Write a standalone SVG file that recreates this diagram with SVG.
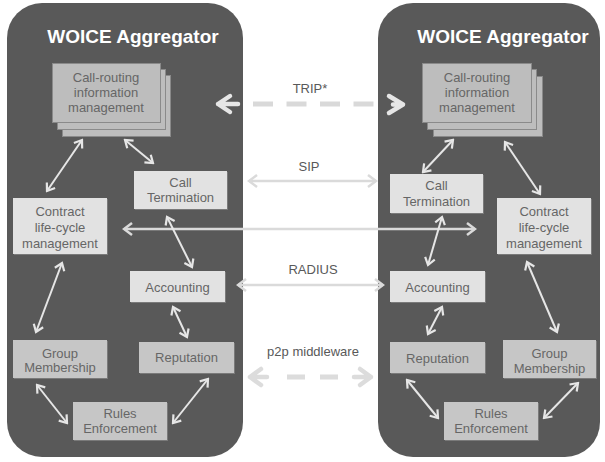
<svg xmlns="http://www.w3.org/2000/svg" width="605" height="462" viewBox="0 0 605 462">
<style>
.panel{fill:#595959}
.title{font-family:"Liberation Sans",Arial,sans-serif;font-size:19px;font-weight:bold;fill:#ffffff;text-anchor:middle}
.bt{font-family:"Liberation Sans",Arial,sans-serif;font-size:13px;fill:#666666;text-anchor:middle}
.lbl{font-family:"Liberation Sans",Arial,sans-serif;font-size:13px;fill:#595959;text-anchor:middle}
.light{fill:#e2e2e2}
.mid{fill:#c6c6c6}
.stk{fill:#bdbdbd;stroke:#8a8a8a;stroke-width:1}
.sh{fill:#7a7a7a}
.a{stroke:#e6e6e6;stroke-width:2;fill:none;marker-start:url(#ah);marker-end:url(#ah)}
.x{stroke:#dadada;stroke-width:2.5;fill:none;marker-start:url(#ahx);marker-end:url(#ahx)}
.thick{stroke-width:4.5;fill:none;stroke-linecap:round;stroke-linejoin:round}
</style>
<defs>
<marker id="ah" markerUnits="userSpaceOnUse" viewBox="-10 -8 12 16" refX="0" refY="0" markerWidth="12" markerHeight="16" orient="auto-start-reverse">
<path d="M-7,-5 L0,0 L-7,5" fill="none" stroke="#e6e6e6" stroke-width="2.2"/>
</marker>
<marker id="ahx" markerUnits="userSpaceOnUse" viewBox="-10 -8 12 16" refX="0" refY="0" markerWidth="12" markerHeight="16" orient="auto-start-reverse">
<path d="M-8,-6 L0,0 L-8,6" fill="none" stroke="#dadada" stroke-width="2.5"/>
</marker>
</defs>

<g id="panel-left"><rect class="panel" x="7" y="3" width="236" height="454" rx="35"/><text class="title" x="133" y="43">WOICE Aggregator</text></g>
<g id="panel-right"><rect class="panel" x="378" y="3" width="222" height="454" rx="35"/><text class="title" x="503" y="43">WOICE Aggregator</text></g>

<g id="connectors">
<line class="x" x1="124" y1="229" x2="475" y2="229"/>
<line class="x" x1="249" y1="181" x2="376" y2="181"/>
<line class="x" x1="238" y1="285" x2="383" y2="285"/>
<line x1="253" y1="104" x2="374" y2="104" stroke="#d9d9d9" stroke-width="5" stroke-dasharray="20 13.5"/>
<path class="thick" stroke="#e6e6e6" d="M230,96 L218,104 L230,112 M218,104 L238,104"/>
<path class="thick" stroke="#e6e6e6" d="M389,96 L403,104.5 L389,113 M393,104.5 L403,104.5"/>
<line x1="287" y1="377" x2="338" y2="377" stroke="#dcdcdc" stroke-width="5" stroke-dasharray="18 15"/>
<path class="thick" stroke="#dcdcdc" d="M261,369 L250,377 L261,385 M250,377 L267,377"/>
<path class="thick" stroke="#dcdcdc" d="M360,369 L371,377 L360,385 M354,377 L371,377"/>
<line class="a" x1="82" y1="140" x2="47" y2="191"/>
<line class="a" x1="125" y1="140" x2="153" y2="163"/>
<line class="a" x1="167" y1="217" x2="192" y2="267"/>
<line class="a" x1="173" y1="307" x2="187" y2="337"/>
<line class="a" x1="62" y1="263" x2="36" y2="332"/>
<line class="a" x1="37" y1="385" x2="67" y2="423"/>
<line class="a" x1="173" y1="423" x2="208" y2="379"/>
<line class="a" x1="453" y1="140" x2="423" y2="172"/>
<line class="a" x1="505" y1="142" x2="540" y2="194"/>
<line class="a" x1="442" y1="217" x2="428" y2="265"/>
<line class="a" x1="442" y1="307" x2="428" y2="334"/>
<line class="a" x1="527" y1="262" x2="557" y2="332"/>
<line class="a" x1="407" y1="380" x2="438" y2="418"/>
<line class="a" x1="544" y1="418" x2="578" y2="383"/>
<text class="lbl" x="310" y="93">TRIP*</text>
<text class="lbl" x="309" y="171">SIP</text>
<text class="lbl" x="313" y="274">RADIUS</text>
<text class="lbl" x="313" y="356">p2p middleware</text>
</g>

<g id="cr-left">
<rect class="stk" x="62.5" y="75.5" width="108" height="61"/>
<rect class="stk" x="57.5" y="69.5" width="108" height="60"/>
<rect class="stk" x="52.5" y="63.5" width="108" height="59"/>
<text class="bt" x="106" y="82">Call-routing</text>
<text class="bt" x="106" y="97">information</text>
<text class="bt" x="106" y="112">management</text>
</g>
<g id="ct-left"><rect class="sh" x="135" y="172" width="93" height="38"/><rect class="light" x="134" y="171" width="93" height="38"/><text class="bt" x="180.5" y="187">Call</text><text class="bt" x="180.5" y="202">Termination</text></g>
<g id="clm-left"><rect class="sh" x="14" y="199" width="94" height="56"/><rect class="light" x="13" y="198" width="94" height="56"/><text class="bt" x="60" y="216">Contract</text><text class="bt" x="60" y="232">life-cycle</text><text class="bt" x="60" y="248">management</text></g>
<g id="acc-left"><rect class="sh" x="131" y="272" width="95" height="31"/><rect class="light" x="130" y="271" width="95" height="31"/><text class="bt" x="177.5" y="291.5">Accounting</text></g>
<g id="rep-left"><rect class="sh" x="140" y="343" width="95" height="31"/><rect class="mid" x="139" y="342" width="95" height="31"/><text class="bt" x="186.5" y="362">Reputation</text></g>
<g id="gm-left"><rect class="sh" x="14" y="341" width="94" height="38"/><rect class="mid" x="13" y="340" width="94" height="38"/><text class="bt" x="60" y="357.5">Group</text><text class="bt" x="60" y="372">Membership</text></g>
<g id="re-left"><rect class="sh" x="74" y="403" width="94" height="38"/><rect class="mid" x="73" y="402" width="94" height="38"/><text class="bt" x="120" y="418">Rules</text><text class="bt" x="120" y="433">Enforcement</text></g>

<g id="cr-right">
<rect class="stk" x="433.5" y="76.5" width="109" height="60"/>
<rect class="stk" x="427.5" y="69.5" width="109" height="60"/>
<rect class="stk" x="422.5" y="63.5" width="109" height="59"/>
<text class="bt" x="477" y="82">Call-routing</text>
<text class="bt" x="477" y="97">information</text>
<text class="bt" x="477" y="112">management</text>
</g>
<g id="ct-right"><rect class="sh" x="391" y="175" width="93" height="39"/><rect class="light" x="390" y="174" width="93" height="39"/><text class="bt" x="436.5" y="189.5">Call</text><text class="bt" x="436.5" y="206">Termination</text></g>
<g id="clm-right"><rect class="sh" x="498" y="199" width="94" height="56"/><rect class="light" x="497" y="198" width="94" height="56"/><text class="bt" x="544" y="216">Contract</text><text class="bt" x="544" y="232">life-cycle</text><text class="bt" x="544" y="248">management</text></g>
<g id="acc-right"><rect class="sh" x="391" y="272" width="95" height="31"/><rect class="light" x="390" y="271" width="95" height="31"/><text class="bt" x="437.5" y="291.5">Accounting</text></g>
<g id="rep-right"><rect class="sh" x="391" y="343" width="95" height="31"/><rect class="mid" x="390" y="342" width="95" height="31"/><text class="bt" x="437.5" y="362.5">Reputation</text></g>
<g id="gm-right"><rect class="sh" x="504" y="341" width="93" height="38"/><rect class="mid" x="503" y="340" width="93" height="38"/><text class="bt" x="549.5" y="357.5">Group</text><text class="bt" x="549.5" y="372.5">Membership</text></g>
<g id="re-right"><rect class="sh" x="445" y="403" width="94" height="38"/><rect class="mid" x="444" y="402" width="94" height="38"/><text class="bt" x="491" y="418">Rules</text><text class="bt" x="491" y="433">Enforcement</text></g>
</svg>
